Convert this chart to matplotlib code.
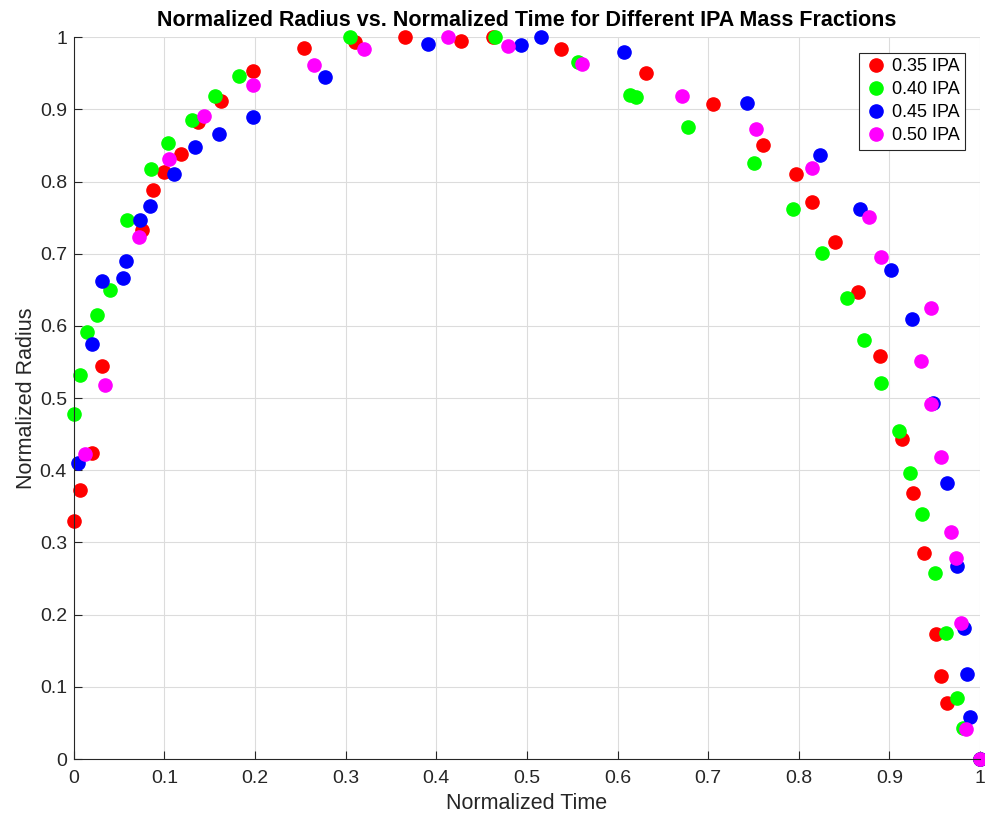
import matplotlib
matplotlib.use("Agg")
import matplotlib.pyplot as plt

plt.rcParams['font.family'] = ['Liberation Sans', 'DejaVu Sans']

# 0.35 IPA
t35 = [0.0, 0.007, 0.02, 0.031, 0.075, 0.087, 0.10, 0.118, 0.137, 0.162, 0.198,
       0.254, 0.31, 0.365, 0.427, 0.462, 0.538, 0.631, 0.705, 0.76, 0.797,
       0.815, 0.840, 0.865, 0.89, 0.914, 0.926, 0.938, 0.951, 0.957, 0.964, 1.0]
r35 = [0.33, 0.373, 0.424, 0.544, 0.733, 0.788, 0.813, 0.838, 0.882, 0.911, 0.953,
       0.985, 0.993, 1.0, 0.994, 1.0, 0.984, 0.95, 0.908, 0.851, 0.811,
       0.772, 0.716, 0.647, 0.558, 0.443, 0.369, 0.286, 0.173, 0.115, 0.078, 0.0]

# 0.40 IPA
t40 = [0.0, 0.007, 0.014, 0.026, 0.04, 0.059, 0.085, 0.104, 0.130, 0.156, 0.182,
       0.305, 0.465, 0.556, 0.614, 0.62, 0.678, 0.75, 0.794, 0.826, 0.853,
       0.872, 0.891, 0.911, 0.923, 0.936, 0.95, 0.962, 0.975, 0.981, 1.0]
r40 = [0.478, 0.532, 0.591, 0.615, 0.65, 0.746, 0.818, 0.853, 0.885, 0.918, 0.946,
       1.0, 1.0, 0.965, 0.92, 0.917, 0.875, 0.826, 0.762, 0.701, 0.638,
       0.58, 0.521, 0.455, 0.396, 0.339, 0.258, 0.175, 0.085, 0.043, 0.0]

# 0.45 IPA
t45 = [0.005, 0.02, 0.031, 0.054, 0.058, 0.0725, 0.084, 0.111, 0.134, 0.160, 0.198,
       0.277, 0.391, 0.493, 0.516, 0.607, 0.743, 0.823, 0.868, 0.902, 0.925,
       0.948, 0.963, 0.974, 0.982, 0.986, 0.989, 1.0]
r45 = [0.41, 0.575, 0.662, 0.667, 0.69, 0.746, 0.766, 0.811, 0.848, 0.866, 0.889,
       0.945, 0.99, 0.989, 1.0, 0.98, 0.909, 0.837, 0.762, 0.677, 0.61,
       0.493, 0.383, 0.268, 0.182, 0.118, 0.058, 0.0]

# 0.50 IPA
t50 = [0.012, 0.034, 0.072, 0.105, 0.144, 0.198, 0.265, 0.32, 0.413, 0.479, 0.561,
       0.671, 0.753, 0.814, 0.877, 0.891, 0.946, 0.935, 0.946, 0.957, 0.968,
       0.973, 0.979, 0.984, 1.0]
r50 = [0.422, 0.518, 0.723, 0.831, 0.891, 0.934, 0.961, 0.983, 1.0, 0.988, 0.963,
       0.919, 0.873, 0.819, 0.751, 0.695, 0.625, 0.552, 0.492, 0.419, 0.315,
       0.278, 0.188, 0.042, 0.0]

series = [(t35, r35, '#ff0000', '0.35 IPA'),
          (t40, r40, '#00ff00', '0.40 IPA'),
          (t45, r45, '#0000ff', '0.45 IPA'),
          (t50, r50, '#ff00ff', '0.50 IPA')]

fig = plt.figure(figsize=(9.85, 8.25), dpi=100)
ax = fig.add_axes([0.075, 0.08, 0.92, 0.875])

for t, r, c, lab in series:
    ax.plot(t, r, 'o', color=c, markersize=9.5, label=lab, clip_on=False)

ax.set_xlim(0, 1)
ax.set_ylim(0, 1)
ticks = [i / 10 for i in range(11)]
ticklabels = ['0'] + ['%.1f' % v for v in ticks[1:-1]] + ['1']
ax.set_xticks(ticks)
ax.set_yticks(ticks)
ax.set_xticklabels(ticklabels)
ax.set_yticklabels(ticklabels)
ax.tick_params(direction='in', length=6, labelsize=14, colors='#262626')
ax.tick_params(axis='x', pad=8)
ax.tick_params(axis='y', pad=5)
ax.grid(True, color='#dcdcdc', linewidth=0.8)
ax.set_axisbelow(True)
for s in ['top', 'right']:
    ax.spines[s].set_visible(False)
for s in ['left', 'bottom']:
    ax.spines[s].set_color('#262626')

ax.set_xlabel('Normalized Time', fontsize=15.5, color='#262626', labelpad=4)
ax.set_ylabel('Normalized Radius', fontsize=15.5, color='#262626', labelpad=2)
ax.set_title('Normalized Radius vs. Normalized Time for Different IPA Mass Fractions',
             fontsize=15.5, fontweight='bold', pad=8)

leg = ax.legend(loc='upper right', bbox_to_anchor=(0.983, 0.978), fontsize=13,
                fancybox=False, edgecolor='#262626', framealpha=1,
                handletextpad=0.2, borderpad=0.3, labelspacing=0.33,
                handlelength=1.3, borderaxespad=0)
leg.get_frame().set_linewidth(0.8)

fig.savefig('out.png', dpi=100)
